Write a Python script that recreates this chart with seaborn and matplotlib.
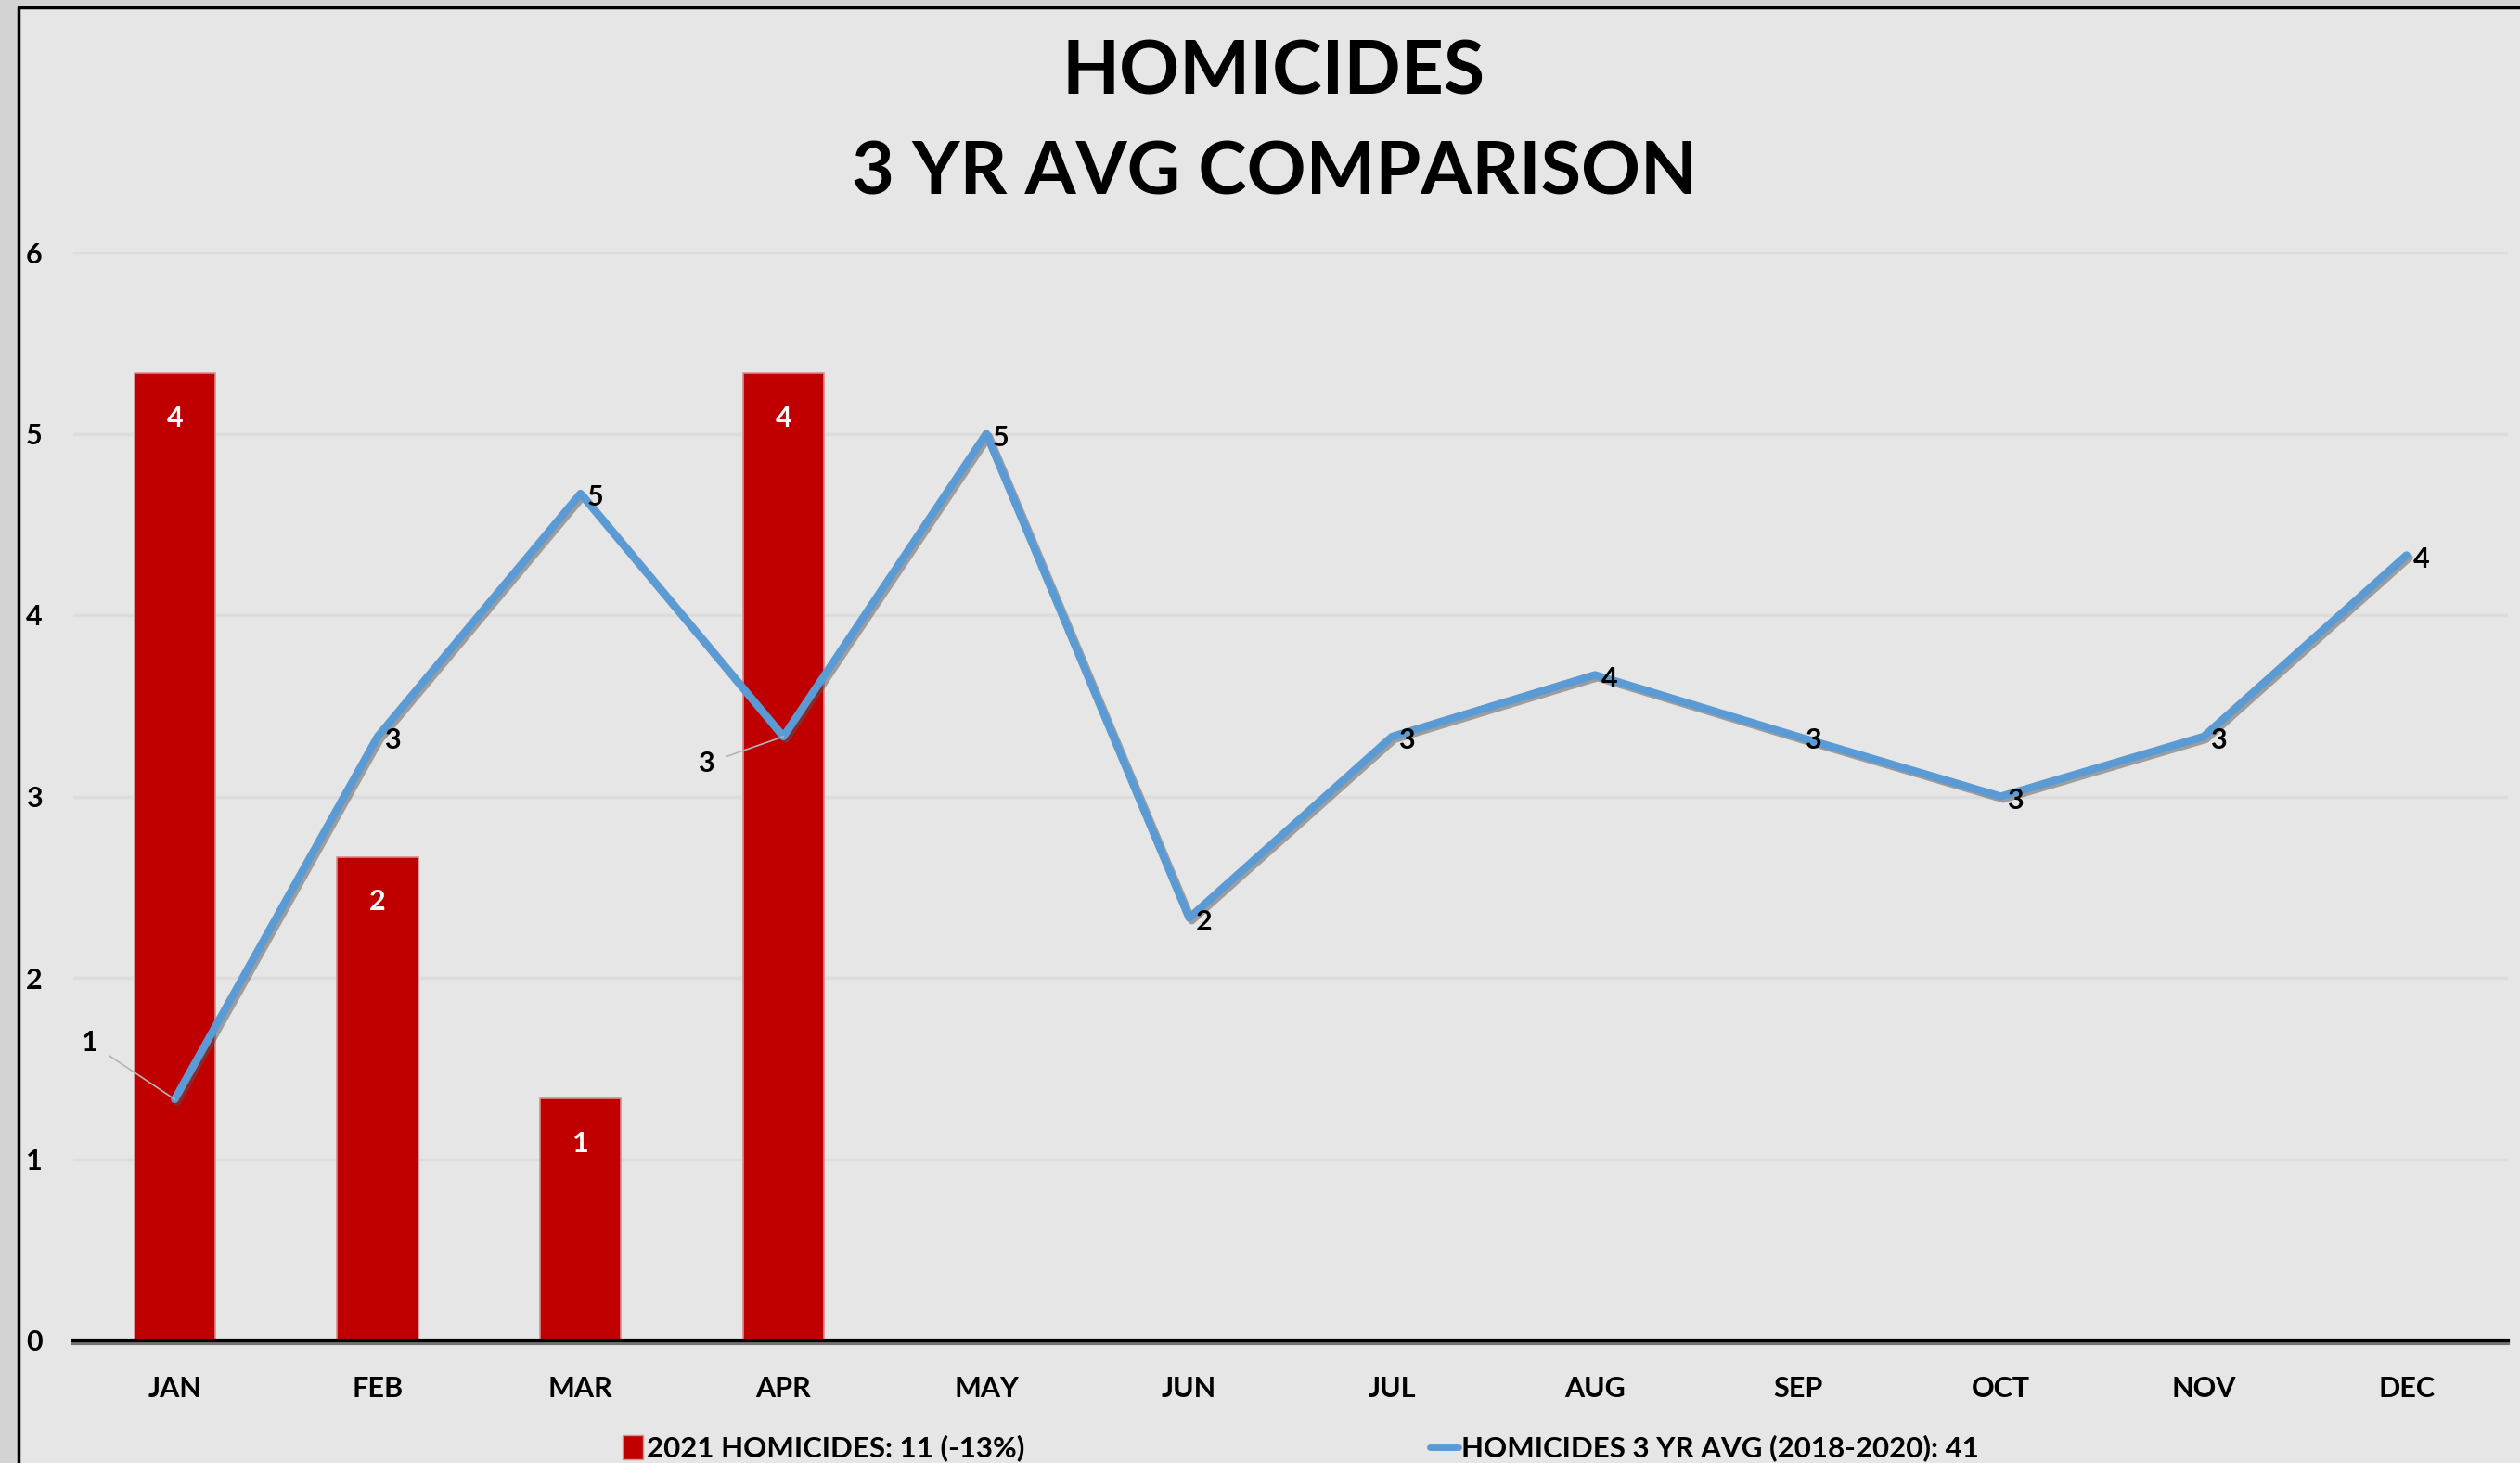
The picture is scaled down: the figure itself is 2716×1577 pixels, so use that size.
import numpy as np
import pandas as pd
import matplotlib
matplotlib.use("Agg")
import matplotlib.pyplot as plt
import matplotlib.patheffects as pe
from matplotlib.lines import Line2D
from matplotlib.patches import Patch, Rectangle
import seaborn as sns

# ---- data ----
months = ["JAN", "FEB", "MAR", "APR", "MAY", "JUN",
          "JUL", "AUG", "SEP", "OCT", "NOV", "DEC"]
months_2021 = ["JAN", "FEB", "MAR", "APR"]
homicides_2021 = [4, 2, 1, 4]
avg_3yr = [1.33, 3.33, 4.67, 3.33, 5.0, 2.33, 3.33, 3.67, 3.33, 3.0, 3.33, 4.33]
bar_legend = "2021 HOMICIDES: 11 (-13%)"
line_legend = "HOMICIDES 3 YR AVG (2018-2020): 41"

BG = "#e6e6e6"
RED = "#c00000"
BLUE = "#5b9bd5"
FONT = ["Lato", "DejaVu Sans"]

sns.set_style("white")
plt.rcParams["font.family"] = FONT
plt.rcParams["font.weight"] = "bold"
plt.rcParams["text.color"] = "black"
plt.rcParams["xtick.color"] = "black"
plt.rcParams["ytick.color"] = "black"

fig = plt.figure(figsize=(27.16, 15.77), dpi=100, facecolor=BG)
ax_bar = fig.add_axes([79 / 2716, 132 / 1577, (2703 - 79) / 2716, (1445 - 272) / 1577])
ax_bar.set_facecolor(BG)

df = pd.DataFrame({"month": months_2021, "count": homicides_2021})
sns.barplot(data=df, x="month", y="count", order=months, color=RED, width=0.4,
            saturation=1, edgecolor="#d98c8c", linewidth=1.2, ax=ax_bar, zorder=2)
ax_bar.set_ylim(0, 4.5)
ax_bar.set_yticks(np.linspace(0, 4.5, 7))
ax_bar.set_yticklabels([])
ax_bar.tick_params(axis="y", length=0)
ax_bar.grid(axis="y", color="#dcdcdc", lw=2.5, zorder=0)
ax_bar.set_axisbelow(True)
ax_bar.set_xlabel("")
ax_bar.set_ylabel("")

ax_bar.bar_label(ax_bar.containers[0], labels=[str(v) for v in homicides_2021],
                 padding=-45, color="white", fontsize=22, fontweight="bold")

# line on twin axis (visible 0-6 scale)
ax_line = ax_bar.twinx()
sns.lineplot(x=np.arange(len(months)), y=avg_3yr, ax=ax_line, color=BLUE, lw=6,
             path_effects=[pe.SimpleLineShadow(offset=(2, -2), shadow_color="#555555", alpha=0.5),
                           pe.Normal()])
ax_line.set_ylim(0, 6)
ax_line.yaxis.tick_left()
ax_line.set_yticks(range(7))
ax_line.tick_params(axis="y", length=0, pad=24, labelsize=22)
for t in ax_line.get_yticklabels():
    t.set_fontweight("bold")
ax_line.set_ylabel("")

offsets = {0: (-66, 44), 3: (-60, -21)}
for i, v in enumerate(avg_3yr):
    if i in offsets:
        ax_line.annotate(f"{v:.0f}", (i, v), xytext=offsets[i], textcoords="offset points",
                         ha="center", va="center", fontsize=22, fontweight="bold",
                         arrowprops=dict(arrowstyle="-", color="#b5b5b5", lw=1.2,
                                         shrinkA=8, shrinkB=0))
    else:
        ax_line.annotate(f"{v:.0f}", (i, v), xytext=(5, -3), textcoords="offset points",
                         ha="left", va="center", fontsize=22, fontweight="bold")

ax_bar.set_xlim(-0.5, 11.5)
ax_bar.set_xticks(range(len(months)))
ax_bar.set_xticklabels(months, fontsize=22, fontweight="bold")
ax_bar.set_xticks(np.arange(-0.5, 12, 1), minor=True)
ax_bar.tick_params(axis="x", which="major", length=0, pad=27)
ax_bar.tick_params(axis="x", which="minor", direction="in", length=9, width=2.2, color="black")

for ax in (ax_bar, ax_line):
    for s in ["top", "right", "left"]:
        ax.spines[s].set_visible(False)
ax_line.spines["bottom"].set_visible(False)
sp = ax_bar.spines["bottom"]
sp.set_color("black")
sp.set_linewidth(3)
sp.set_path_effects([pe.SimpleLineShadow(offset=(0, -2.5), shadow_color="#666666", alpha=0.9),
                     pe.Normal()])

fig.text(1373 / 2716, 1 - 78 / 1577, "HOMICIDES", ha="center", va="center",
         fontsize=58, fontweight="bold")
fig.text(1373 / 2716, 1 - 187 / 1577, "3 YR AVG COMPARISON", ha="center", va="center",
         fontsize=57, fontweight="bold")

# frame decoration
fig.patches.append(Rectangle((0, 0), 18 / 2716, 1, transform=fig.transFigure,
                             color="#d3d3d3", zorder=-1))
fig.patches.append(Rectangle((0, 1 - 6 / 1577), 1, 6 / 1577, transform=fig.transFigure,
                             color="#d3d3d3", zorder=-1))
fig.lines.append(Line2D([20 / 2716, 20 / 2716], [0, 1 - 8 / 1577], transform=fig.transFigure,
                        color="black", lw=2.5))
fig.lines.append(Line2D([20 / 2716, 1], [1 - 8 / 1577, 1 - 8 / 1577], transform=fig.transFigure,
                        color="black", lw=2.5))

fig.legend(handles=[Patch(facecolor=RED, edgecolor="#d98c8c")], labels=[bar_legend],
           loc="center left", bbox_to_anchor=(655 / 2716, 16 / 1577), frameon=False,
           handlelength=0.7, handleheight=0.9, handletextpad=0.15, borderpad=0,
           prop={"size": 22.5, "weight": "bold", "family": FONT})
fig.legend(handles=[Line2D([], [], color=BLUE, lw=5)], labels=[line_legend],
           loc="center left", bbox_to_anchor=(1525 / 2716, 16 / 1577), frameon=False,
           handlelength=1.0, handletextpad=0.1, borderpad=0,
           prop={"size": 22.5, "weight": "bold", "family": FONT})

fig.savefig("out.png", dpi=100, facecolor=BG)
